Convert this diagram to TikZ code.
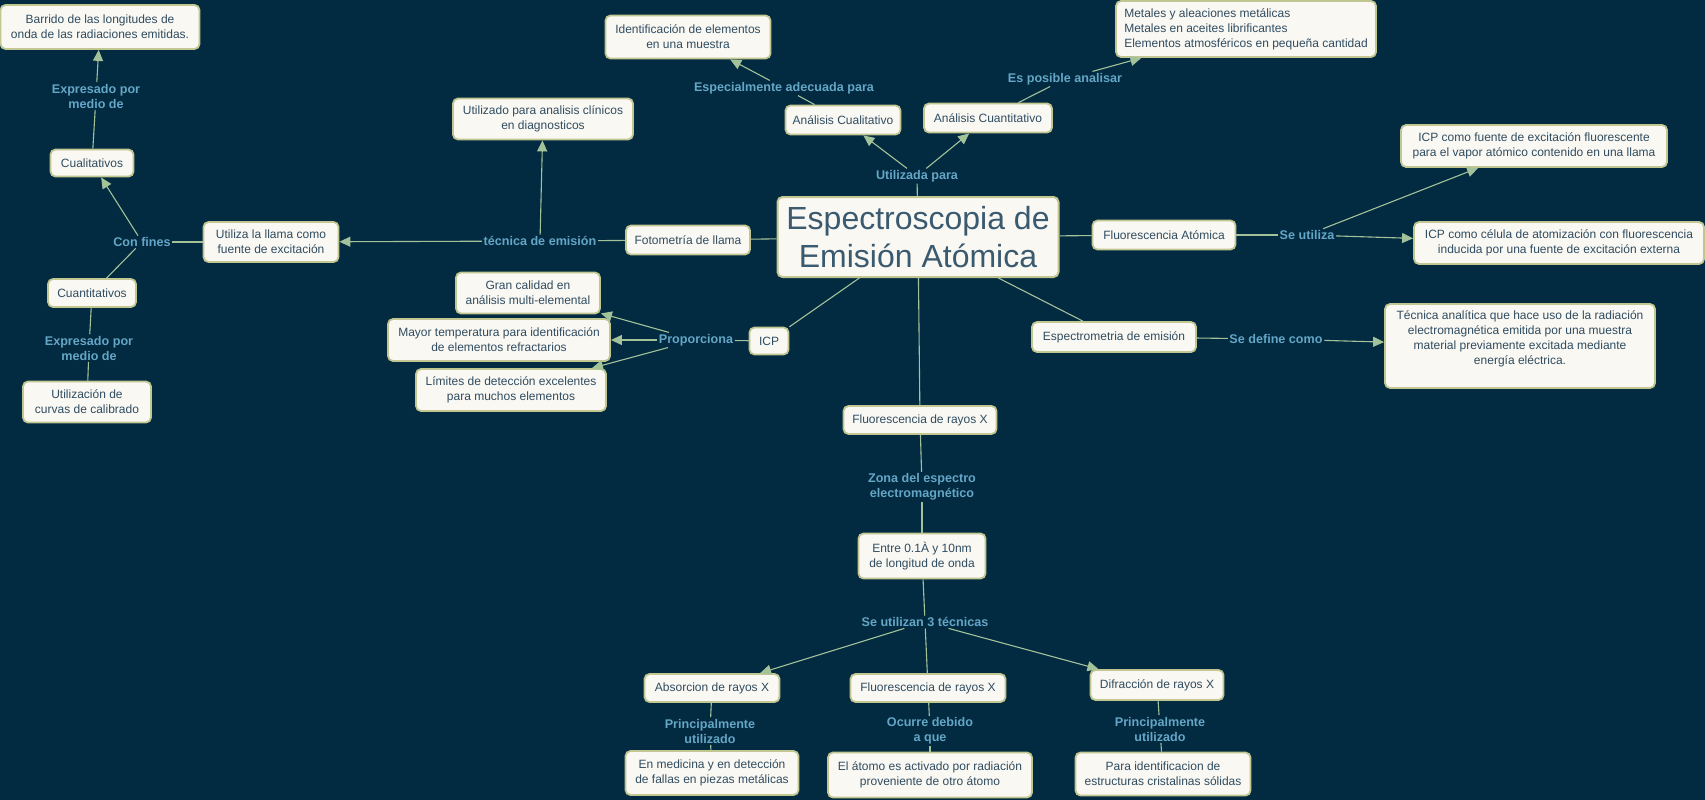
\documentclass[tikz,border=0pt]{standalone}
\usepackage{fontspec}
\setmainfont{Liberation Sans}
\usetikzlibrary{arrows.meta}
\definecolor{bg}{HTML}{022A40}
\definecolor{boxfill}{HTML}{FAF8F3}
\definecolor{boxline}{HTML}{C2C690}
\definecolor{txt}{HTML}{2F4C60}
\definecolor{ttl}{HTML}{3A5A70}
\definecolor{lbl}{HTML}{64A6C6}
\definecolor{lnk}{HTML}{A3C29A}
\tikzset{
  concept/.style={draw=boxline, line width=1.8pt, fill=boxfill, rounded corners=5pt,
    text=txt, font=\fontsize{12}{15}\selectfont, align=center, inner sep=2pt},
  plaintext/.style={text=txt, font=\fontsize{12}{15}\selectfont, align=center, inner sep=0pt},
  lab/.style={text=lbl, font=\bfseries\fontsize{12.6}{15}\selectfont, align=center, inner sep=1.5pt},
  link/.style={draw=lnk, line width=1.1pt},
  arr/.style={link, -{Triangle[length=11pt,width=10pt]}},
}
\begin{document}
\begin{tikzpicture}[x=1pt,y=-1pt]
\fill[bg] (0,0) rectangle (1705,800);
\useasboundingbox (0,0) rectangle (1705,800);

% main concept
\node[concept, line width=2pt, minimum width=281pt, minimum height=80pt, text=ttl,
  font=\fontsize{32}{38}\selectfont] (title) at (918,237) {Espectroscopia de\\Emisión Atómica};

% left branch
\node[concept, minimum width=199pt, minimum height=44pt] (barrido) at (100,27) {Barrido de las longitudes de\\onda de las radiaciones emitidas.};
\node[concept, minimum width=83pt, minimum height=27pt] (cualit) at (92,163) {Cualitativos};
\node[concept, minimum width=88pt, minimum height=28pt] (cuantit) at (92,293) {Cuantitativos};
\node[concept, minimum width=128pt, minimum height=41pt] (utilizacion) at (87,402) {Utilización de\\curvas de calibrado};
\node[concept, minimum width=135pt, minimum height=40pt] (llama) at (271,242) {Utiliza la llama como\\fuente de excitación};
\node[concept, minimum width=180pt, minimum height=41pt] (clinicos) at (543,119) {Utilizado para analisis clínicos\\en diagnosticos};
\node[concept, minimum width=124pt, minimum height=29pt] (fotometria) at (688,240) {Fotometría de llama};

% top branch
\node[concept, minimum width=165pt, minimum height=43pt] (identif) at (688,37) {Identificación de elementos\\en una muestra};
\node[concept, minimum width=115pt, minimum height=29pt] (acual) at (843,120) {Análisis Cualitativo};
\node[concept, minimum width=128pt, minimum height=29pt] (acuant) at (988,118) {Análisis Cuantitativo};
\node[concept, minimum width=260pt, minimum height=56pt, align=left] (metales) at (1246,29) {Metales y aleaciones metálicas\\Metales en aceites librificantes\\Elementos atmosféricos en pequeña cantidad};

% right branch
\node[concept, minimum width=143pt, minimum height=29pt] (fluoat) at (1164,235) {Fluorescencia Atómica};
\node[concept, minimum width=266pt, minimum height=42pt] (icpfuente) at (1534,146) {ICP como fuente de excitación fluorescente\\para el vapor atómico contenido en una llama};
\node[concept, minimum width=290pt, minimum height=42pt] (icpcelula) at (1559,243) {ICP como célula de atomización con fluorescencia\\inducida por una fuente de excitación externa};
\node[concept, minimum width=164pt, minimum height=30pt] (espectrometria) at (1114,337) {Espectrometria de emisión};
\node[concept, minimum width=270pt, minimum height=84pt] (tecnica) at (1520,346) {};
\node[plaintext] (tectext) at (1520,339) {Técnica analítica que hace uso de la radiación\\electromagnética emitida por una muestra\\material previamente excitada mediante\\energía eléctrica.};

% ICP branch
\node[concept, minimum width=39pt, minimum height=27pt] (icp) at (769,341) {ICP};
\node[concept, minimum width=144pt, minimum height=41pt] (gran) at (528,293) {Gran calidad en\\análisis multi-elemental};
\node[concept, minimum width=222pt, minimum height=42pt] (mayor) at (499,340) {Mayor temperatura para identificación\\de elementos refractarios};
\node[concept, minimum width=190pt, minimum height=42pt] (limites) at (511,390) {Límites de detección excelentes\\para muchos elementos};

% bottom branch
\node[concept, minimum width=153pt, minimum height=28pt] (frx) at (920,420) {Fluorescencia de rayos X};
\node[concept, minimum width=127pt, minimum height=45pt] (entre) at (922,556) {Entre 0.1À y 10nm\\de longitud de onda};
\node[concept, minimum width=135pt, minimum height=28pt] (absor) at (712,688) {Absorcion de rayos X};
\node[concept, minimum width=155pt, minimum height=28pt] (frxb) at (928,688) {Fluorescencia de rayos X};
\node[concept, minimum width=133pt, minimum height=30pt] (difr) at (1157,685) {Difracción de rayos X};
\node[concept, minimum width=173pt, minimum height=44pt] (medicina) at (712,773) {En medicina y en detección\\de fallas en piezas metálicas};
\node[concept, minimum width=204pt, minimum height=45pt] (atomo) at (930,775) {El átomo es activado por radiación\\proveniente de otro átomo};
\node[concept, minimum width=175pt, minimum height=43pt] (paraid) at (1163,774) {Para identificacion de\\estructuras cristalinas sólidas};

% link labels
\node[lab] (lutilizada) at (917,176) {Utilizada para};
\node[lab] (lespecial) at (784,88) {Especialmente adecuada para};
\node[lab] (lesposible) at (1065,79) {Es posible analisar};
\node[lab] (ltecnica) at (540,241) {técnica de emisión};
\node[lab] (lconfines) at (142,242) {Con fines};
\node[lab] (lexpra) at (96,96) {Expresado por\\medio de};
\node[lab] (lexprb) at (89,348) {Expresado por\\medio de};
\node[lab] (lseutiliza) at (1307,235) {Se utiliza};
\node[lab] (lsedefine) at (1276,339) {Se define como};
\node[lab] (lproporciona) at (696,340) {Proporciona};
\node[lab] (lzona) at (922,487) {Zona del espectro\\electromagnético};
\node[lab] (ltres) at (925,622) {Se utilizan 3 técnicas};
\node[lab] (lprinca) at (710,731) {Principalmente\\utilizado};
\node[lab] (locurre) at (930,731) {Ocurre debido\\a que};
\node[lab] (lprincb) at (1160,729) {Principalmente\\utilizado};

% connectors
\draw[link] (title) -- (lutilizada);
\draw[arr] (lutilizada) -- (acual);
\draw[arr] (lutilizada) -- (acuant);
\draw[link] (acual) -- (lespecial);
\draw[arr] (lespecial) -- (identif);
\draw[link] (acuant) -- (lesposible);
\draw[arr] (lesposible) -- (metales);

\draw[link] (title) -- (fotometria);
\draw[link] (fotometria) -- (ltecnica);
\draw[arr] (ltecnica) -- (llama);
\draw[arr] (ltecnica) -- (clinicos);
\draw[link] (llama) -- (lconfines);
\draw[arr] (lconfines) -- (cualit);
\draw[link] (lconfines) -- (cuantit);
\draw[link] (cualit) -- (lexpra);
\draw[arr] (lexpra) -- (barrido);
\draw[link] (cuantit) -- (lexprb);
\draw[link] (lexprb) -- (utilizacion);

\draw[link] (title) -- (fluoat);
\draw[link] (fluoat) -- (lseutiliza);
\draw[arr] (lseutiliza) -- (icpfuente);
\draw[arr] (lseutiliza) -- (icpcelula);
\draw[link] (title) -- (espectrometria);
\draw[link] (espectrometria) -- (lsedefine);
\draw[arr] (lsedefine) -- (tecnica);

\draw[link] (title) -- (icp);
\draw[link] (icp) -- (lproporciona);
\draw[arr] (lproporciona) -- (gran);
\draw[arr] (lproporciona) -- (mayor);
\draw[arr] (lproporciona) -- (limites);

\draw[link] (title) -- (frx);
\draw[link] (frx) -- (lzona);
\draw[link] (lzona) -- (entre);
\draw[link] (entre) -- (ltres);
\draw[arr] (ltres) -- (absor);
\draw[link] (ltres) -- (frxb);
\draw[arr] (ltres) -- (difr);
\draw[link] (absor) -- (lprinca);
\draw[link] (lprinca) -- (medicina);
\draw[link] (frxb) -- (locurre);
\draw[link] (locurre) -- (atomo);
\draw[link] (difr) -- (lprincb);
\draw[link] (lprincb) -- (paraid);
\end{tikzpicture}
\end{document}
